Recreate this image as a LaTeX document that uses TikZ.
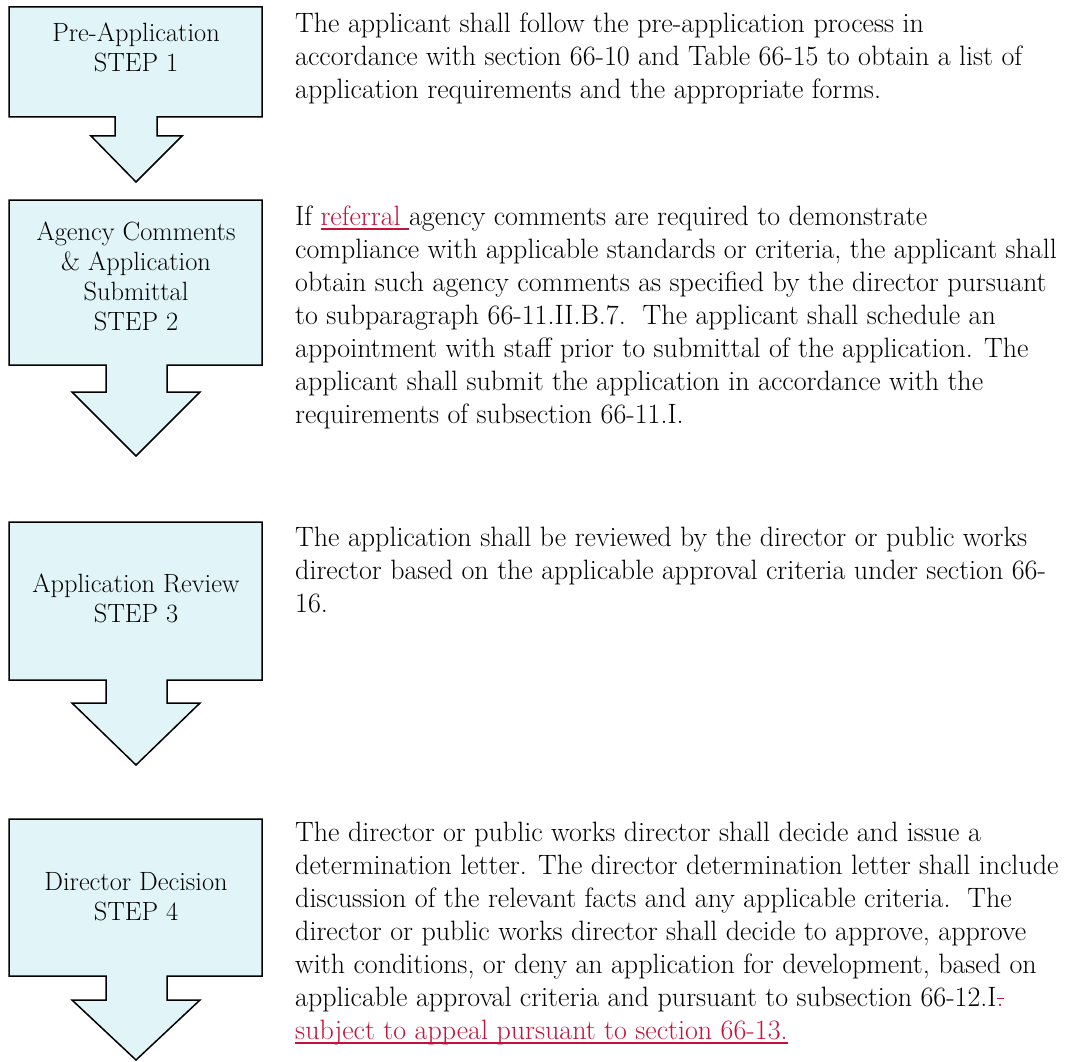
\documentclass[tikz,border=0pt]{standalone}
\usepackage{xcolor}
\definecolor{stepfill}{RGB}{225,245,248}
\definecolor{revred}{RGB}{196,18,58}
% inserted text (red, underlined) and deleted text (red, struck)
\newcommand{\redins}[1]{\textcolor{revred}{\setbox0\hbox{#1}\rlap{\rule[-5pt]{\wd0}{1.6pt}}\box0}}
\newcommand{\reddel}[1]{\textcolor{revred}{\setbox0\hbox{#1}\rlap{\rule[7pt]{\wd0}{1.4pt}}\box0}}
\tikzset{
  callout/.style={draw=black, fill=stepfill, line width=1.5pt, line join=miter},
  steplabel/.style={align=center, font=\fontsize{26.4}{30}\selectfont, inner sep=0pt, anchor=base},
  steptext/.style={align=left, font=\fontsize{28}{33}\selectfont, inner sep=0pt, anchor=base west},
}

\begin{document}
\begin{tikzpicture}[x=1pt, y=-1pt]
      \useasboundingbox (0,0) rectangle (1068,1062);

      % Draw the step callouts (box with a down arrow)
      \draw[callout] (9,7) -- (262,7) -- (262,117) -- (157,117) -- (157,136) -- (182,136)
        -- (136,182) -- (91,136) -- (115,136) -- (115,117) -- (9,117) -- cycle;
      \draw[callout] (9,200) -- (262,200) -- (262,365) -- (167,365) -- (167,392) -- (200,392)
        -- (136,456) -- (72,392) -- (106,392) -- (106,365) -- (9,365) -- cycle;
      \draw[callout] (9,522) -- (262,522) -- (262,680) -- (167,680) -- (167,703) -- (200,703)
        -- (136,765) -- (72,703) -- (106,703) -- (106,680) -- (9,680) -- cycle;
      \draw[callout] (9,819) -- (262,819) -- (262,976) -- (167,976) -- (167,1000) -- (200,1000)
        -- (136,1060) -- (72,1000) -- (106,1000) -- (106,976) -- (9,976) -- cycle;

      % Step labels (placed at the baseline of their last line)
      \node[steplabel] (step1) at (136,72) {Pre-Application\\STEP 1};
      \node[steplabel] (step2) at (136,330) {Agency Comments\\\& Application\\Submittal\\STEP 2};
      \node[steplabel] (step3) at (136,622) {Application Review\\STEP 3};
      \node[steplabel] (step4) at (136,920) {Director Decision\\STEP 4};

      % Step descriptions
      \node[steptext] (desc1) at (295,99) {The applicant shall follow the pre-application process in\\
        accordance with section 66-10 and Table 66-15 to obtain a list of\\
        application requirements and the appropriate forms.};
      \node[steptext] (desc2) at (295,423) {If \redins{referral\ }agency comments are required to demonstrate\\
        compliance with applicable standards or criteria, the applicant shall\\
        obtain such agency comments as specified by the director pursuant\\
        to subparagraph 66-11.II.B.7.\ \ The applicant shall schedule an\\
        appointment with staff prior to submittal of the application. The\\
        applicant shall submit the application in accordance with the\\
        requirements of subsection 66-11.I.};
      \node[steptext] (desc3) at (295,612) {The application shall be reviewed by the director or public works\\
        director based on the applicable approval criteria under section 66-\\
        16.};
      \node[steptext] (desc4) at (295,1039) {The director or public works director shall decide and issue a\\
        determination letter. The director determination letter shall include\\
        discussion of the relevant facts and any applicable criteria.\ \ The\\
        director or public works director shall decide to approve, approve\\
        with conditions, or deny an application for development, based on\\
        applicable approval criteria and pursuant to subsection 66-12.I\reddel{.}\\
        \redins{subject to appeal pursuant to section 66-13.}};
\end{tikzpicture}
\end{document}
